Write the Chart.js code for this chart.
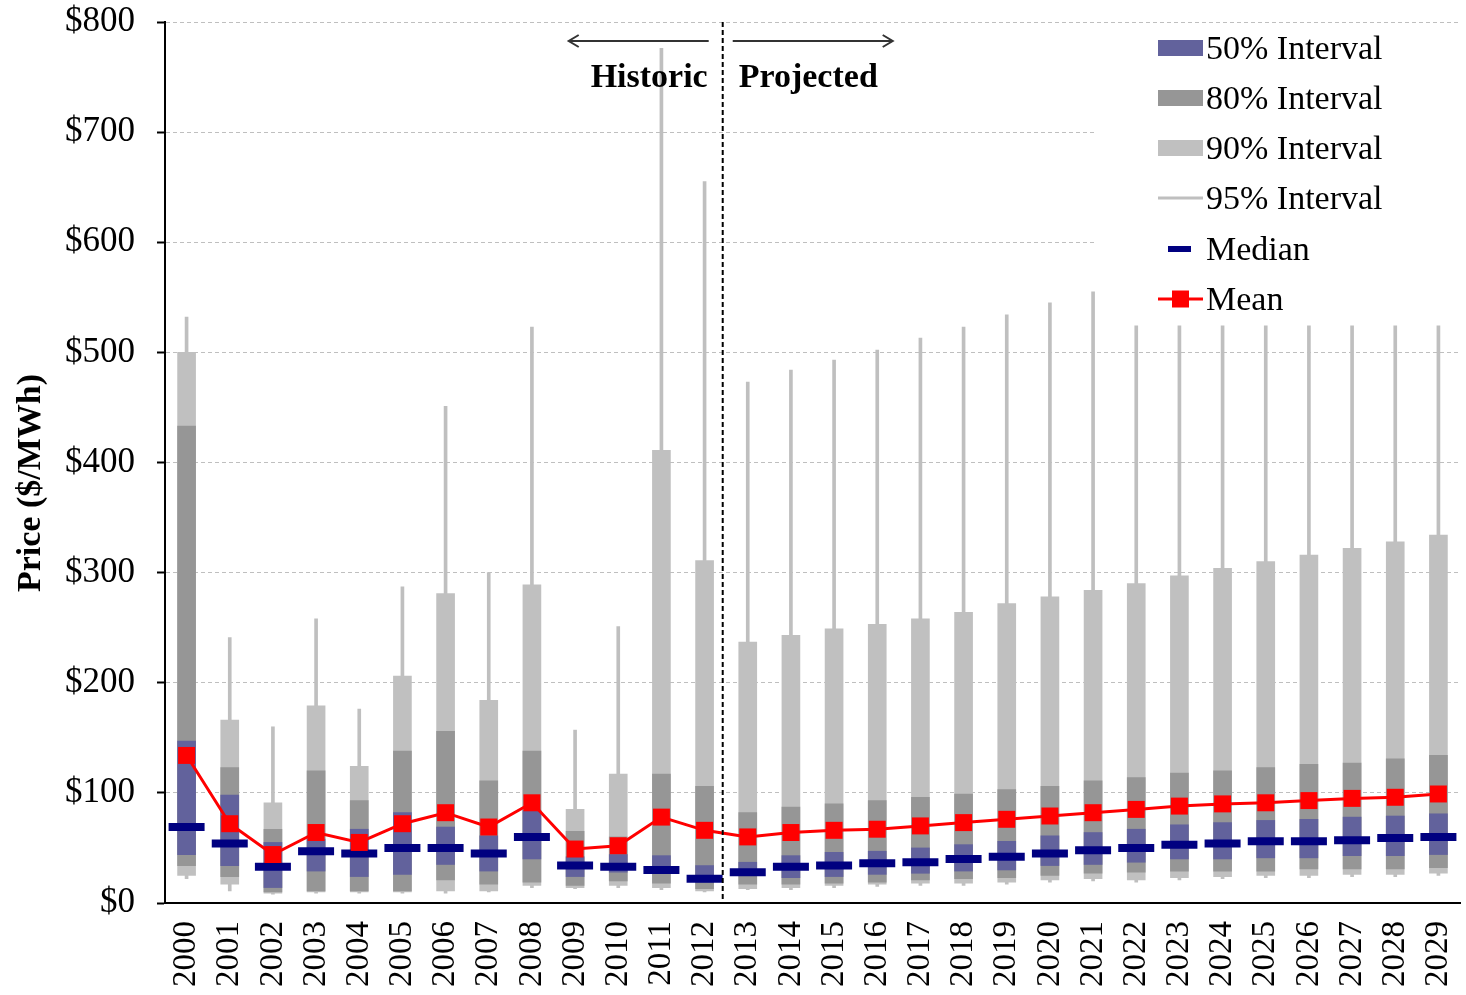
<!DOCTYPE html>
<html>
<head>
<meta charset="utf-8">
<script src="https://cdn.jsdelivr.net/npm/chart.js@4"></script>
<style>
  body { margin: 0; background: #fff; }
  #wrap { width: 1466px; height: 995px; }
</style>
</head>
<body>
<div id="wrap"><canvas id="priceChart" width="1466" height="995"></canvas></div>
<script>
// years and interval bounds ($/MWh)
var years = ['2000','2001','2002','2003','2004','2005','2006','2007','2008','2009',
             '2010','2011','2012','2013','2014','2015','2016','2017','2018','2019',
             '2020','2021','2022','2023','2024','2025','2026','2027','2028','2029'];

var p95Hi = [532,241,160,258,176,287,451,300,523,157,251,776,655,473,484,493,502,513,523,534,545,555,524,524,524,524,524,524,524,524];
var p95Lo = [22,11,8,9,9,9,9,10,14,13,14,12,10,12,12,14,15,16,16,17,19,20,19,21,22,23,23,24,24,25];
var p90Hi = [500,166,91,179,124,206,281,184,289,85,117,411,311,237,243,249,253,258,264,272,278,284,290,297,304,310,316,322,328,334];
var p90Lo = [25,17,9,10,10,10,11,11,16,14,16,14,11,13,14,16,17,18,18,19,21,22,21,23,24,25,25,26,26,27];
var p80Hi = [433,123,67,120,93,138,156,111,138,65,60,117,106,82,87,90,93,96,99,103,106,111,114,118,120,123,126,127,131,134];
var p80Lo = [34,24,10,11,11,11,21,17,19,16,20,18,13,17,17,18,19,21,22,23,25,27,28,29,29,29,31,31,31,32];
var p50Hi = [147,98,55,58,67,82,69,61,84,42,44,43,34,37,43,46,47,50,53,56,61,64,67,71,73,75,76,78,79,81];
var p50Lo = [44,34,14,29,24,26,35,29,40,24,28,27,19,25,23,24,26,27,29,30,34,35,37,40,40,41,41,43,43,44];
var median = [69,54,33,47,45,50,50,45,60,34,33,30,22,28,33,34,36,37,40,42,45,48,50,53,54,56,56,57,59,60];
var mean = [134,72,44,64,55,72,82,69,91,49,52,78,66,60,64,66,67,70,73,76,79,82,85,88,90,91,93,95,96,99];

var serif = "'Liberation Serif', 'Times New Roman', serif";

function pairs(lo, hi) {
	var out = [];
	for (let i = 0; i < lo.length; i++) {
		out.push([lo[i], hi[i]]);
	}
	return out;
}

function arrow(ctx, x1, x2, y) {
	var dir = x2 > x1 ? 1 : -1;
	ctx.beginPath();
	ctx.moveTo(x1, y);
	ctx.lineTo(x2, y);
	ctx.moveTo(x2 - dir * 10, y - 6);
	ctx.lineTo(x2, y);
	ctx.lineTo(x2 - dir * 10, y + 6);
	ctx.stroke();
}

// legend, historic/projected divider and axis title
const extras = {
	id: 'extras',
	beforeDatasetsDraw(chart) {
		const ctx = chart.ctx;
		const a = chart.chartArea;
		ctx.save();
		ctx.fillStyle = '#fff';
		ctx.fillRect(a.right - 365, a.top + 5, 365, 296);
		ctx.restore();
	},
	afterDraw(chart) {
		const ctx = chart.ctx;
		const a = chart.chartArea;
		const xs = chart.scales.x;
		ctx.save();

		// divider
		const xd = xs.getPixelForValue(12.42);
		ctx.strokeStyle = '#000';
		ctx.lineWidth = 2;
		ctx.setLineDash([5, 3]);
		ctx.beginPath();
		ctx.moveTo(xd, a.top);
		ctx.lineTo(xd, a.bottom);
		ctx.stroke();
		ctx.setLineDash([]);

		ctx.strokeStyle = '#333';
		ctx.lineWidth = 2;
		arrow(ctx, xd - 14, xd - 154, a.top + 19);
		arrow(ctx, xd + 10, xd + 170, a.top + 19);

		ctx.fillStyle = '#000';
		ctx.font = 'bold 34px ' + serif;
		ctx.textBaseline = 'alphabetic';
		ctx.textAlign = 'right';
		ctx.fillText('Historic', xd - 15, a.top + 65);
		ctx.textAlign = 'left';
		ctx.fillText('Projected', xd + 16, a.top + 65);

		// y axis title
		ctx.save();
		ctx.translate(31, 483);
		ctx.rotate(-Math.PI / 2);
		ctx.textAlign = 'center';
		ctx.textBaseline = 'middle';
		ctx.font = 'bold 34px ' + serif;
		ctx.fillText('Price ($/MWh)', 0, 0);
		ctx.restore();

		// legend
		const lx = a.right - 302;
		const tx = lx + 48;
		const rows = [26, 76, 126, 176, 227, 277];
		ctx.font = '34px ' + serif;
		ctx.textAlign = 'left';
		ctx.textBaseline = 'middle';
		const boxes = ['#62629C', '#969696', '#C0C0C0'];
		const names = ['50% Interval', '80% Interval', '90% Interval', '95% Interval', 'Median', 'Mean'];
		for (let i = 0; i < 3; i++) {
			ctx.fillStyle = boxes[i];
			ctx.fillRect(lx, a.top + rows[i] - 8, 45, 16);
		}
		ctx.fillStyle = '#BFBFBF';
		ctx.fillRect(lx, a.top + rows[3] - 1.5, 45, 3);
		ctx.fillStyle = '#000080';
		ctx.fillRect(lx + 10, a.top + rows[4] - 3, 23, 6);
		ctx.fillStyle = '#FF0000';
		ctx.fillRect(lx, a.top + rows[5] - 1.5, 45, 3);
		ctx.fillRect(lx + 14, a.top + rows[5] - 8.5, 17, 17);
		ctx.fillStyle = '#000';
		for (let i = 0; i < names.length; i++) {
			ctx.fillText(names[i], tx, a.top + rows[i] + 2);
		}
		ctx.restore();
	}
};

const data = {
	labels: years,
	datasets: [
		{ type: 'line', label: 'Mean', data: mean, borderColor: '#FF0000', backgroundColor: '#FF0000',
		  borderWidth: 3, pointStyle: 'rect', pointRadius: 12, pointBorderWidth: 0, order: 1 },
		{ type: 'line', label: 'Median', data: median, showLine: false, borderColor: '#000080',
		  pointStyle: 'line', pointRadius: 18, pointBorderWidth: 8, pointBorderColor: '#000080', order: 2 },
		{ label: '50% Interval', data: pairs(p50Lo, p50Hi), backgroundColor: '#62629C', barThickness: 18, order: 3 },
		{ label: '80% Interval', data: pairs(p80Lo, p80Hi), backgroundColor: '#969696', barThickness: 18, order: 4 },
		{ label: '90% Interval', data: pairs(p90Lo, p90Hi), backgroundColor: '#C0C0C0', barThickness: 18, order: 5 },
		{ label: '95% Interval', data: pairs(p95Lo, p95Hi), backgroundColor: '#BFBFBF', barThickness: 3, order: 6 }
	]
};

const config = {
	type: 'bar',
	data: data,
	plugins: [extras],
	options: {
		responsive: false,
		animation: false,
		devicePixelRatio: 1,
		layout: { autoPadding: false, padding: { top: 22, right: 6, left: 0, bottom: 0 } },
		datasets: { bar: { grouped: false, borderWidth: 0 } },
		plugins: { legend: { display: false }, tooltip: { enabled: false } },
		scales: {
			x: {
				grid: { display: false },
				border: { color: '#000', width: 2 },
				ticks: { color: '#000', font: { family: serif, size: 33 }, minRotation: 90, maxRotation: 90, padding: 10, autoSkip: false },
				afterFit: function (s) { s.height = 92; s.paddingLeft = 0; s.paddingRight = 0; }
			},
			y: {
				min: 0,
				max: 800,
				grid: { color: '#BFBFBF', lineWidth: 1, tickColor: '#000', tickLength: 8, tickWidth: 2 },
				border: { color: '#000', width: 2, dash: [4, 3] },
				ticks: { stepSize: 100, color: '#000', padding: 22, font: { family: serif, size: 35 },
				         callback: function (v) { return '$' + v; } },
				afterFit: function (s) { s.width = 165; s.paddingTop = 0; s.paddingBottom = 0; }
			}
		}
	}
};

const priceChart = new Chart(document.getElementById('priceChart').getContext('2d'), config);
</script>
</body>
</html>
